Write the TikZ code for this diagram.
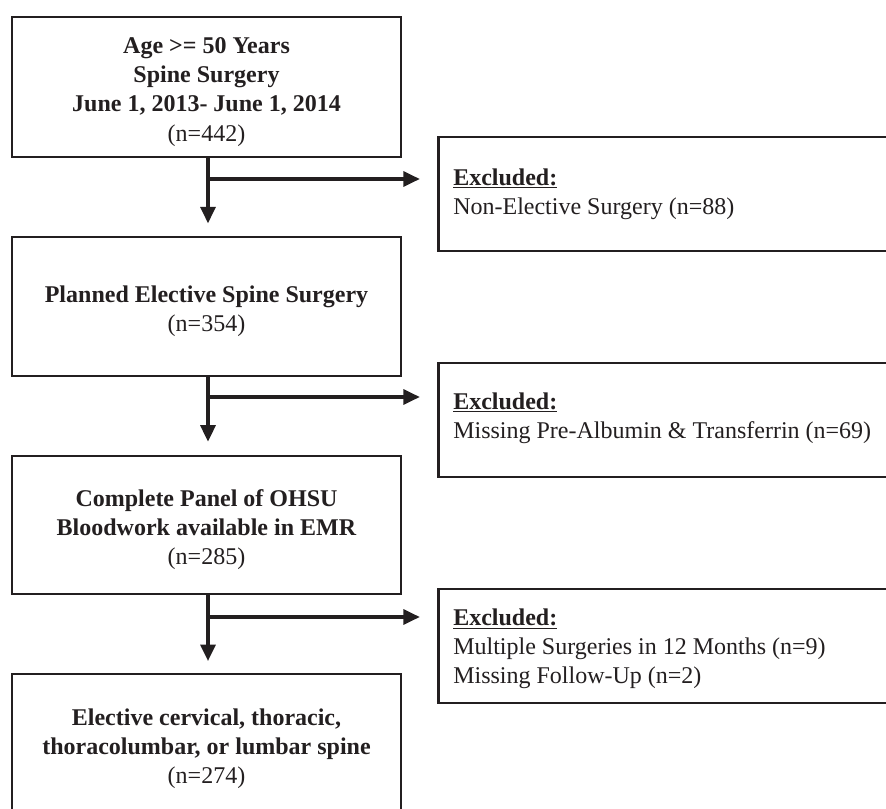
\documentclass[tikz,border=0pt]{standalone}
\usepackage{fontspec}
\setmainfont{Liberation Serif}
\usetikzlibrary{arrows.meta}
\definecolor{ink}{RGB}{35,31,32}
\newcommand{\toppad}{\rule{0pt}{19.5pt}}
\begin{document}
\begin{tikzpicture}[x=0.75pt,y=-0.75pt,
  mainbox/.style={draw=ink,line width=2.2pt,minimum width=389*0.75pt,minimum height=140*0.75pt,
    align=center,inner sep=0pt,text=ink,font=\fontsize{18}{21.8}\selectfont},
  exbox/.style={draw=ink,line width=2.2pt,minimum width=480*0.75pt,minimum height=114*0.75pt,
    align=left,inner sep=0pt,text=ink,font=\fontsize{18}{21.8}\selectfont},
  extext/.style={anchor=west,align=left,inner sep=0pt,text=ink,font=\fontsize{18}{21.8}\selectfont},
  flow/.style={draw=ink,line width=3pt,-{Triangle[length=12.5pt,width=11pt]}}]
\useasboundingbox (0,0) rectangle (886,809);
\clip (0,0) rectangle (886,809);
\fill[white] (0,0) rectangle (886,809);

\node[mainbox] (b1) at (206.5,87) {\toppad\textbf{Age >= 50 Years}\\\textbf{Spine Surgery}\\\textbf{June 1, 2013- June 1, 2014}\\(n=442)};
\node[mainbox,minimum height=139*0.75pt] (b2) at (206.5,306.5) {\toppad\textbf{Planned Elective Spine Surgery}\\(n=354)};
\node[mainbox,minimum height=138*0.75pt] (b3) at (206.5,525) {\toppad\textbf{Complete Panel of OHSU}\\\textbf{Bloodwork available in EMR}\\(n=285)};
\node[mainbox] (b4) at (206.5,744) {\toppad\textbf{Elective cervical, thoracic,}\\\textbf{thoracolumbar, or lumbar spine}\\(n=274)};

\node[exbox,anchor=west] (e1) at (437,194) {};
\node[extext] (t1) at (453,194) {\underline{\textbf{Excluded:}}\\Non-Elective Surgery (n=88)};
\node[exbox,anchor=west] (e2) at (437,420) {};
\node[extext] (t2) at (453,418) {\underline{\textbf{Excluded:}}\\Missing Pre-Albumin \& Transferrin (n=69)};
\node[exbox,anchor=west] (e3) at (437,646) {};
\node[extext] (t3) at (453,649) {\underline{\textbf{Excluded:}}\\Multiple Surgeries in 12 Months (n=9)\\Missing Follow-Up (n=2)};

\coordinate (j1) at (208,179);
\coordinate (j2) at (208,397);
\coordinate (j3) at (208,617);

\draw[flow,shorten >=9pt] (b1.south -| j1) -- (b2.north -| j1);
\draw[flow,shorten >=12.75pt] (j1) -- (j1 -| e1.west);
\draw[flow,shorten >=9.5pt] (b2.south -| j2) -- (b3.north -| j2);
\draw[flow,shorten >=12.75pt] (j2) -- (j2 -| e2.west);
\draw[flow,shorten >=8.5pt] (b3.south -| j3) -- (b4.north -| j3);
\draw[flow,shorten >=12.75pt] (j3) -- (j3 -| e3.west);
\end{tikzpicture}
\end{document}
